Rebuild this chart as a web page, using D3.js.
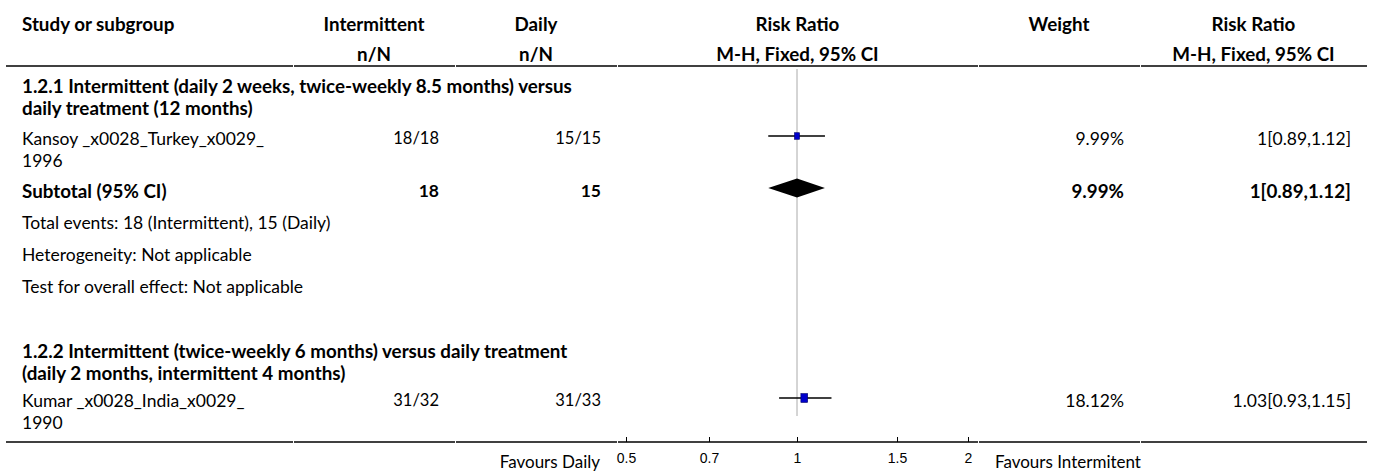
<!DOCTYPE html>
<html>
<head>
<meta charset="utf-8">
<script src="https://cdn.jsdelivr.net/npm/d3@7"></script>
<style>
  body { margin: 0; background: #fff; }
  svg { display: block; font-family: "Source Sans Pro", "Lato", sans-serif; }
  .b { font-weight: bold; }
</style>
</head>
<body>
<div id="chart"></div>
<script>
// data
let headers1 = ["Study or subgroup", "Intermittent", "Daily", "Risk Ratio", "Weight", "Risk Ratio"]
let headers2 = ["", "n/N", "n/N", "M-H, Fixed, 95% CI", "", "M-H, Fixed, 95% CI"]
let groupTitles = [
    ["1.2.1 Intermittent (daily 2 weeks, twice-weekly 8.5 months) versus", "daily treatment (12 months)"],
    ["1.2.2 Intermittent (twice-weekly 6 months) versus daily treatment", "(daily 2 months, intermittent 4 months)"]
]
let studyNames = [["Kansoy _x0028_Turkey_x0029_", "1996"], ["Kumar _x0028_India_x0029_", "1990"]]
let intermittentNN = ["18/18", "31/32"]
let dailyNN = ["15/15", "31/33"]
let studyRR = [1, 1.03]
let studyLow = [0.89, 0.93]
let studyHigh = [1.12, 1.15]
let studyWeight = [9.99, 18.12]
let studyCI = ["1[0.89,1.12]", "1.03[0.93,1.15]"]
let subtotalLabel = "Subtotal (95% CI)"
let subtotalN = ["18", "15"]
let subtotalRR = [1, 0.89, 1.12]
let subtotalWeight = "9.99%"
let subtotalCI = "1[0.89,1.12]"
let subgroupNotes = ["Total events: 18 (Intermittent), 15 (Daily)", "Heterogeneity: Not applicable", "Test for overall effect: Not applicable"]
let tickValues = [0.5, 0.7, 1, 1.5, 2]
let favours = ["Favours Daily", "Favours Intermitent"]

let width = 1375
height = 471
let cols = [6, 293, 455, 617, 978, 1140, 1367]
let fsReg = 17.5
let fsBold = 18.8

let svg = d3.select("#chart")
    .append("svg")
    .attr("width", width)
    .attr("height", height)

let x = d3.scaleLog()
    .domain([0.5, 2])
    .range([626, 968])

let wScale = d3.scaleSqrt()
    .domain([0, 100])
    .range([0, 16])

function txt(t, px, py, anchor, bold, size) {
    svg.append("text")
        .attr("x", px)
        .attr("y", py)
        .attr("text-anchor", anchor)
        .attr("dominant-baseline", "central")
        .attr("class", bold ? "b" : null)
        .style("font-size", (size || (bold ? fsBold : fsReg)) + "px")
        .attr("fill", "#000")
        .text(t)
}

// header
let centers = cols.slice(0, -1).map((c, i) => (c + cols[i + 1]) / 2)
headers1.forEach((h, i) => {
    if (i == 0) txt(h, 22, 23, "start", true)
    else txt(h, centers[i], 23, "middle", true)
})
headers2.forEach((h, i) => {
    if (h) txt(h, centers[i], 53, "middle", true)
})

// column rules with small breaks between columns
function rule(py) {
    cols.slice(0, -1).forEach((c, i) => {
        svg.append("line")
            .attr("x1", c + (i ? 1 : 0))
            .attr("x2", cols[i + 1])
            .attr("y1", py)
            .attr("y2", py)
            .attr("stroke", "#000")
            .attr("stroke-width", 1.6)
    })
}
rule(66)
rule(442)

// line of no effect
svg.append("line")
    .attr("x1", x(1))
    .attr("x2", x(1))
    .attr("y1", 69)
    .attr("y2", 416)
    .attr("stroke", "#aaa")
    .attr("stroke-width", 1)

let groupY = [[85, 107], [350, 372]]
let studyY = [[138, 160], [400, 422]]

groupTitles.forEach((g, i) => {
    g.forEach((line, j) => txt(line, 22, groupY[i][j], "start", true))
})

let right = c => cols[c + 1] - 16

studyNames.forEach((s, i) => {
    let y0 = studyY[i][0]
    s.forEach((line, j) => txt(line, 22, studyY[i][j], "start", false))
    txt(intermittentNN[i], right(1), y0, "end", false, 16.5)
    txt(dailyNN[i], right(2), y0, "end", false, 16.5)
    txt(studyWeight[i] + "%", right(4), y0, "end", false)
    txt(studyCI[i], right(5), y0, "end", false)

    let my = y0 - 2
    svg.append("line")
        .attr("x1", x(studyLow[i]))
        .attr("x2", x(studyHigh[i]))
        .attr("y1", my)
        .attr("y2", my)
        .attr("stroke", "#000")
        .attr("stroke-width", 1.4)
    let s2 = wScale(studyWeight[i])
    svg.append("rect")
        .attr("x", x(studyRR[i]) - s2 / 2)
        .attr("y", my - s2 * 0.65)
        .attr("width", s2)
        .attr("height", s2 * 1.3)
        .attr("fill", "#0000cc")
        .attr("stroke", "#000066")
        .attr("stroke-width", 0.6)
})

// subtotal
txt(subtotalLabel, 22, 190, "start", true)
txt(subtotalN[0], right(1), 190, "end", true, 17.5)
txt(subtotalN[1], right(2), 190, "end", true, 17.5)
txt(subtotalWeight, right(4), 190, "end", true)
txt(subtotalCI, right(5), 190, "end", true)
let dy = 188
svg.append("path")
    .attr("d", d3.line()([
        [x(subtotalRR[1]), dy],
        [x(subtotalRR[0]), dy - 9.5],
        [x(subtotalRR[2]), dy],
        [x(subtotalRR[0]), dy + 9.5]
    ]) + "Z")
    .attr("fill", "#000")

let noteY = [222, 254, 286]
subgroupNotes.forEach((n, i) => txt(n, 22, noteY[i], "start", false))

// axis
let axis = d3.axisTop(x)
    .tickValues(tickValues)
    .tickFormat(d => d)
    .tickSize(5)
    .tickSizeOuter(0)
let g = svg.append("g")
    .attr("transform", "translate(0,442)")
    .call(axis)
g.select(".domain").remove()
g.selectAll(".tick line").attr("stroke", "#000")
g.selectAll(".tick text")
    .attr("y", 16)
    .attr("dy", 0)
    .attr("dominant-baseline", "central")
    .style("font-family", "inherit")
    .style("font-size", "14px")
    .attr("fill", "#000")

txt(favours[0], 600, 461, "end", false, 17)
txt(favours[1], 995, 461, "start", false, 17)
</script>
</body>
</html>
